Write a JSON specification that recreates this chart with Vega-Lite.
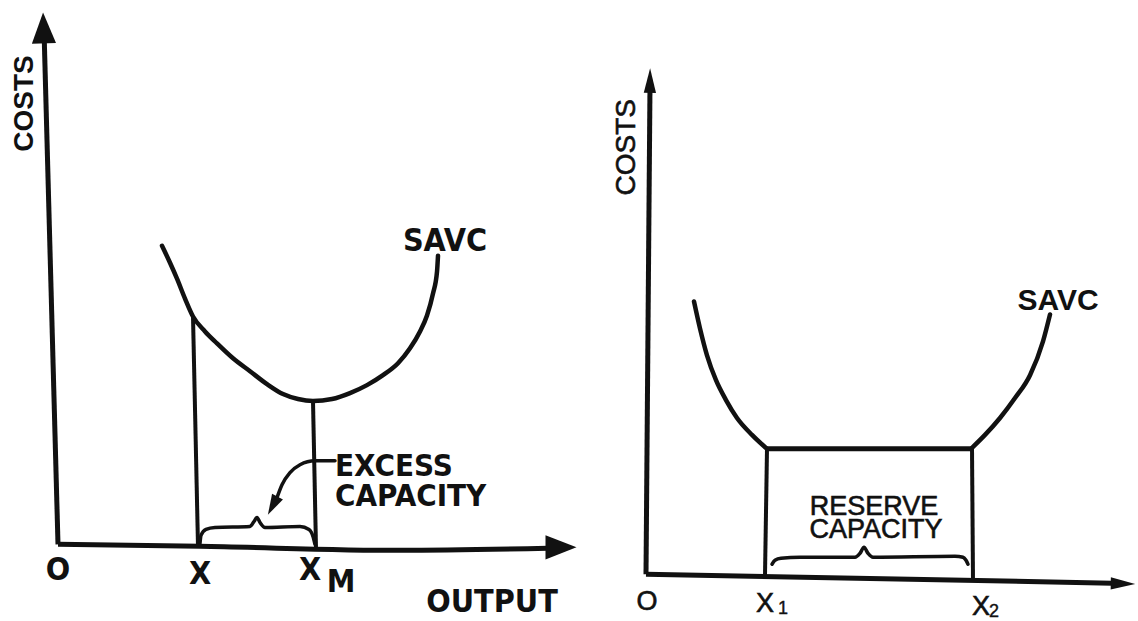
{
  "$schema": "https://vega.github.io/schema/vega-lite/v6.json",
  "width": 1138,
  "height": 621,
  "autosize": {"type": "fit", "contains": "padding"},
  "padding": 0,
  "background": "white",
  "config": {"view": {"stroke": null}},
  "datasets": {
    "strokes": [
      {"kind": "axis", "seg": "L-yaxis", "i": 0, "x": 44, "y": 30},
      {"kind": "axis", "seg": "L-yaxis", "i": 1, "x": 58, "y": 547},
      {"kind": "axis", "seg": "L-xaxis", "i": 0, "x": 58, "y": 547},
      {"kind": "axis", "seg": "L-xaxis", "i": 1, "x": 200, "y": 549},
      {"kind": "axis", "seg": "L-xaxis", "i": 2, "x": 400, "y": 553},
      {"kind": "axis", "seg": "L-xaxis", "i": 3, "x": 548, "y": 551},
      {"kind": "axis", "seg": "R-yaxis", "i": 0, "x": 650, "y": 85},
      {"kind": "axis", "seg": "R-yaxis", "i": 1, "x": 646, "y": 577},
      {"kind": "axis", "seg": "R-xaxis", "i": 0, "x": 646, "y": 577},
      {"kind": "axis", "seg": "R-xaxis", "i": 1, "x": 1112, "y": 586},

      {"kind": "curve", "seg": "L-savc", "i": 0, "x": 162, "y": 247},
      {"kind": "curve", "seg": "L-savc", "i": 1, "x": 170, "y": 264},
      {"kind": "curve", "seg": "L-savc", "i": 2, "x": 177, "y": 280},
      {"kind": "curve", "seg": "L-savc", "i": 3, "x": 185, "y": 300},
      {"kind": "curve", "seg": "L-savc", "i": 4, "x": 193, "y": 318},
      {"kind": "curve", "seg": "L-savc", "i": 5, "x": 205, "y": 333},
      {"kind": "curve", "seg": "L-savc", "i": 6, "x": 217, "y": 345},
      {"kind": "curve", "seg": "L-savc", "i": 7, "x": 233, "y": 360},
      {"kind": "curve", "seg": "L-savc", "i": 8, "x": 250, "y": 373},
      {"kind": "curve", "seg": "L-savc", "i": 9, "x": 267, "y": 386},
      {"kind": "curve", "seg": "L-savc", "i": 10, "x": 283, "y": 396},
      {"kind": "curve", "seg": "L-savc", "i": 11, "x": 298, "y": 401},
      {"kind": "curve", "seg": "L-savc", "i": 12, "x": 313, "y": 403},
      {"kind": "curve", "seg": "L-savc", "i": 13, "x": 332, "y": 401},
      {"kind": "curve", "seg": "L-savc", "i": 14, "x": 350, "y": 395},
      {"kind": "curve", "seg": "L-savc", "i": 15, "x": 367, "y": 387},
      {"kind": "curve", "seg": "L-savc", "i": 16, "x": 383, "y": 377},
      {"kind": "curve", "seg": "L-savc", "i": 17, "x": 398, "y": 365},
      {"kind": "curve", "seg": "L-savc", "i": 18, "x": 410, "y": 350},
      {"kind": "curve", "seg": "L-savc", "i": 19, "x": 420, "y": 333},
      {"kind": "curve", "seg": "L-savc", "i": 20, "x": 427, "y": 317},
      {"kind": "curve", "seg": "L-savc", "i": 21, "x": 433, "y": 295},
      {"kind": "curve", "seg": "L-savc", "i": 22, "x": 437, "y": 273},
      {"kind": "curve", "seg": "L-savc", "i": 23, "x": 438, "y": 257},

      {"kind": "curve", "seg": "R-savc-fall", "i": 0, "x": 694, "y": 303},
      {"kind": "curve", "seg": "R-savc-fall", "i": 1, "x": 700, "y": 330},
      {"kind": "curve", "seg": "R-savc-fall", "i": 2, "x": 707, "y": 357},
      {"kind": "curve", "seg": "R-savc-fall", "i": 3, "x": 716, "y": 382},
      {"kind": "curve", "seg": "R-savc-fall", "i": 4, "x": 726, "y": 402},
      {"kind": "curve", "seg": "R-savc-fall", "i": 5, "x": 737, "y": 420},
      {"kind": "curve", "seg": "R-savc-fall", "i": 6, "x": 752, "y": 437},
      {"kind": "curve", "seg": "R-savc-fall", "i": 7, "x": 767, "y": 451},
      {"kind": "flat", "seg": "R-savc-flat", "i": 0, "x": 767, "y": 451},
      {"kind": "flat", "seg": "R-savc-flat", "i": 1, "x": 972, "y": 451},
      {"kind": "curve", "seg": "R-savc-rise", "i": 0, "x": 972, "y": 450},
      {"kind": "curve", "seg": "R-savc-rise", "i": 1, "x": 985, "y": 437},
      {"kind": "curve", "seg": "R-savc-rise", "i": 2, "x": 1000, "y": 420},
      {"kind": "curve", "seg": "R-savc-rise", "i": 3, "x": 1015, "y": 400},
      {"kind": "curve", "seg": "R-savc-rise", "i": 4, "x": 1030, "y": 377},
      {"kind": "curve", "seg": "R-savc-rise", "i": 5, "x": 1043, "y": 343},
      {"kind": "curve", "seg": "R-savc-rise", "i": 6, "x": 1050, "y": 316},

      {"kind": "drop", "seg": "L-x", "i": 0, "x": 193, "y": 318},
      {"kind": "drop", "seg": "L-x", "i": 1, "x": 198, "y": 549},
      {"kind": "drop", "seg": "L-xm", "i": 0, "x": 313, "y": 403},
      {"kind": "drop", "seg": "L-xm", "i": 1, "x": 316, "y": 551},
      {"kind": "drop", "seg": "R-x1", "i": 0, "x": 767, "y": 451},
      {"kind": "drop", "seg": "R-x1", "i": 1, "x": 765, "y": 578},
      {"kind": "drop", "seg": "R-x2", "i": 0, "x": 972, "y": 450},
      {"kind": "drop", "seg": "R-x2", "i": 1, "x": 973, "y": 583},

      {"kind": "brace", "seg": "L-brace", "i": 0, "x": 200, "y": 546},
      {"kind": "brace", "seg": "L-brace", "i": 1, "x": 201, "y": 538},
      {"kind": "brace", "seg": "L-brace", "i": 2, "x": 206, "y": 532},
      {"kind": "brace", "seg": "L-brace", "i": 3, "x": 215, "y": 530},
      {"kind": "brace", "seg": "L-brace", "i": 4, "x": 250, "y": 529},
      {"kind": "brace", "seg": "L-brace", "i": 5, "x": 254, "y": 524},
      {"kind": "brace", "seg": "L-brace", "i": 6, "x": 257, "y": 520},
      {"kind": "brace", "seg": "L-brace", "i": 7, "x": 260, "y": 525},
      {"kind": "brace", "seg": "L-brace", "i": 8, "x": 265, "y": 530},
      {"kind": "brace", "seg": "L-brace", "i": 9, "x": 300, "y": 529},
      {"kind": "brace", "seg": "L-brace", "i": 10, "x": 309, "y": 532},
      {"kind": "brace", "seg": "L-brace", "i": 11, "x": 313, "y": 539},
      {"kind": "brace", "seg": "L-brace", "i": 12, "x": 315, "y": 547},

      {"kind": "brace", "seg": "R-brace", "i": 0, "x": 772, "y": 567},
      {"kind": "brace", "seg": "R-brace", "i": 1, "x": 775, "y": 563},
      {"kind": "brace", "seg": "R-brace", "i": 2, "x": 781, "y": 561},
      {"kind": "brace", "seg": "R-brace", "i": 3, "x": 800, "y": 560},
      {"kind": "brace", "seg": "R-brace", "i": 4, "x": 855, "y": 560},
      {"kind": "brace", "seg": "R-brace", "i": 5, "x": 860, "y": 556},
      {"kind": "brace", "seg": "R-brace", "i": 6, "x": 864, "y": 550},
      {"kind": "brace", "seg": "R-brace", "i": 7, "x": 868, "y": 556},
      {"kind": "brace", "seg": "R-brace", "i": 8, "x": 873, "y": 560},
      {"kind": "brace", "seg": "R-brace", "i": 9, "x": 955, "y": 559},
      {"kind": "brace", "seg": "R-brace", "i": 10, "x": 963, "y": 560},
      {"kind": "brace", "seg": "R-brace", "i": 11, "x": 966, "y": 563},
      {"kind": "brace", "seg": "R-brace", "i": 12, "x": 968, "y": 567},

      {"kind": "brace", "seg": "L-pointer", "i": 0, "x": 277, "y": 500},
      {"kind": "brace", "seg": "L-pointer", "i": 1, "x": 282, "y": 487},
      {"kind": "brace", "seg": "L-pointer", "i": 2, "x": 290, "y": 475},
      {"kind": "brace", "seg": "L-pointer", "i": 3, "x": 300, "y": 467},
      {"kind": "brace", "seg": "L-pointer", "i": 4, "x": 315, "y": 463},
      {"kind": "brace", "seg": "L-pointer", "i": 5, "x": 335, "y": 463}
    ],
    "heads": [
      {"group": "big", "name": "L-yaxis", "x": 43.5, "y": 28, "heading": -1.6},
      {"group": "big", "name": "L-xaxis", "x": 561, "y": 550, "heading": 90},
      {"group": "small", "name": "R-yaxis", "x": 650, "y": 81, "heading": 0.5},
      {"group": "small", "name": "R-xaxis", "x": 1123, "y": 586.5, "heading": 91},
      {"group": "pointer", "name": "L-pointer", "x": 272.7, "y": 508.2, "heading": 208}
    ],
    "labels": [
      {"group": "leftRot", "text": "COSTS", "x": 33, "y": 104},
      {"group": "leftBold", "text": "SAVC", "x": 445, "y": 252},
      {"group": "leftBold", "text": "O", "x": 58, "y": 583},
      {"group": "leftBold", "text": "X", "x": 200, "y": 587},
      {"group": "leftBold", "text": "X", "x": 310, "y": 583},
      {"group": "leftBold", "text": "M", "x": 341, "y": 595},
      {"group": "leftBold", "text": "OUTPUT", "x": 492, "y": 615},
      {"group": "leftNote", "text": "EXCESS", "x": 335, "y": 478},
      {"group": "leftNote", "text": "CAPACITY", "x": 335, "y": 508},
      {"group": "rightRot", "text": "COSTS", "x": 635, "y": 148},
      {"group": "rightBold", "text": "SAVC", "x": 1058, "y": 312},
      {"group": "right", "text": "RESERVE", "x": 874, "y": 517},
      {"group": "right", "text": "CAPACITY", "x": 876, "y": 541},
      {"group": "right", "text": "O", "x": 647, "y": 613},
      {"group": "right", "text": "X", "x": 765, "y": 615},
      {"group": "right", "text": "X", "x": 981, "y": 618},
      {"group": "rightSub", "text": "1", "x": 783, "y": 617},
      {"group": "rightSub", "text": "2", "x": 994, "y": 620}
    ]
  },
  "encoding": {
    "x": {"field": "x", "type": "quantitative", "scale": {"domain": [0, 1138], "nice": false, "zero": false}, "axis": null},
    "y": {"field": "y", "type": "quantitative", "scale": {"domain": [0, 621], "nice": false, "zero": false, "reverse": true}, "axis": null}
  },
  "layer": [
    {
      "data": {"name": "strokes"},
      "transform": [{"filter": "datum.kind === 'axis'"}],
      "mark": {"type": "line", "color": "#111", "strokeWidth": 5, "interpolate": "monotone", "strokeCap": "butt", "clip": false},
      "encoding": {"detail": {"field": "seg"}, "order": {"field": "i", "type": "quantitative"}}
    },
    {
      "data": {"name": "strokes"},
      "transform": [{"filter": "datum.kind === 'curve'"}],
      "mark": {"type": "line", "color": "#111", "strokeWidth": 4.5, "interpolate": "monotone", "strokeCap": "round"},
      "encoding": {"detail": {"field": "seg"}, "order": {"field": "i", "type": "quantitative"}}
    },
    {
      "data": {"name": "strokes"},
      "transform": [{"filter": "datum.kind === 'flat'"}],
      "mark": {"type": "line", "color": "#111", "strokeWidth": 5, "strokeCap": "butt"},
      "encoding": {"detail": {"field": "seg"}, "order": {"field": "i", "type": "quantitative"}}
    },
    {
      "data": {"name": "strokes"},
      "transform": [{"filter": "datum.kind === 'drop'"}],
      "mark": {"type": "line", "color": "#111", "strokeWidth": 4, "strokeCap": "butt"},
      "encoding": {"detail": {"field": "seg"}, "order": {"field": "i", "type": "quantitative"}}
    },
    {
      "data": {"name": "strokes"},
      "transform": [{"filter": "datum.kind === 'brace'"}],
      "mark": {"type": "line", "color": "#111", "strokeWidth": 3.5, "interpolate": "monotone", "strokeCap": "round", "strokeJoin": "round"},
      "encoding": {"detail": {"field": "seg"}, "order": {"field": "i", "type": "quantitative"}}
    },
    {
      "data": {"name": "heads"},
      "transform": [{"filter": "datum.group === 'big'"}],
      "mark": {"type": "point", "shape": "M0,-1L0.78,1L-0.78,1Z", "filled": true, "color": "#111", "opacity": 1, "size": 960},
      "encoding": {"angle": {"field": "heading", "type": "quantitative", "scale": null}}
    },
    {
      "data": {"name": "heads"},
      "transform": [{"filter": "datum.group === 'small'"}],
      "mark": {"type": "point", "shape": "M0,-1L0.5,1L-0.5,1Z", "filled": true, "color": "#111", "opacity": 1, "size": 600},
      "encoding": {"angle": {"field": "heading", "type": "quantitative", "scale": null}}
    },
    {
      "data": {"name": "heads"},
      "transform": [{"filter": "datum.group === 'pointer'"}],
      "mark": {"type": "point", "shape": "M0,-1L0.6,1L-0.6,1Z", "filled": true, "color": "#111", "opacity": 1, "size": 420},
      "encoding": {"angle": {"field": "heading", "type": "quantitative", "scale": null}}
    },
    {
      "data": {"name": "labels"},
      "transform": [{"filter": "datum.group === 'leftRot'"}],
      "mark": {"type": "text", "angle": 270, "align": "center", "baseline": "alphabetic", "font": "Liberation Sans, Arial, sans-serif", "fontWeight": "bold", "fontSize": 28, "color": "#111"},
      "encoding": {"text": {"field": "text"}}
    },
    {
      "data": {"name": "labels"},
      "transform": [{"filter": "datum.group === 'leftBold'"}],
      "mark": {"type": "text", "align": "center", "baseline": "alphabetic", "font": "Liberation Sans Narrow, DejaVu Sans Condensed, sans-serif", "fontWeight": "bold", "fontSize": 32, "color": "#111"},
      "encoding": {"text": {"field": "text"}}
    },
    {
      "data": {"name": "labels"},
      "transform": [{"filter": "datum.group === 'leftNote'"}],
      "mark": {"type": "text", "align": "left", "baseline": "alphabetic", "font": "Liberation Sans Narrow, DejaVu Sans Condensed, sans-serif", "fontWeight": "bold", "fontSize": 31, "color": "#111"},
      "encoding": {"text": {"field": "text"}}
    },
    {
      "data": {"name": "labels"},
      "transform": [{"filter": "datum.group === 'rightRot'"}],
      "mark": {"type": "text", "angle": 270, "align": "center", "baseline": "alphabetic", "font": "Liberation Sans, Arial, sans-serif", "fontSize": 28, "color": "#111", "stroke": "#111", "strokeWidth": 0.6},
      "encoding": {"text": {"field": "text"}}
    },
    {
      "data": {"name": "labels"},
      "transform": [{"filter": "datum.group === 'rightBold'"}],
      "mark": {"type": "text", "align": "center", "baseline": "alphabetic", "font": "Liberation Sans, Arial, sans-serif", "fontWeight": "bold", "fontSize": 30, "color": "#111"},
      "encoding": {"text": {"field": "text"}}
    },
    {
      "data": {"name": "labels"},
      "transform": [{"filter": "datum.group === 'right'"}],
      "mark": {"type": "text", "align": "center", "baseline": "alphabetic", "font": "Liberation Sans, Arial, sans-serif", "fontSize": 27, "color": "#111", "stroke": "#111", "strokeWidth": 0.6},
      "encoding": {"text": {"field": "text"}}
    },
    {
      "data": {"name": "labels"},
      "transform": [{"filter": "datum.group === 'rightSub'"}],
      "mark": {"type": "text", "align": "center", "baseline": "alphabetic", "font": "Liberation Sans, Arial, sans-serif", "fontSize": 18, "color": "#111", "stroke": "#111", "strokeWidth": 0.4},
      "encoding": {"text": {"field": "text"}}
    }
  ]
}
